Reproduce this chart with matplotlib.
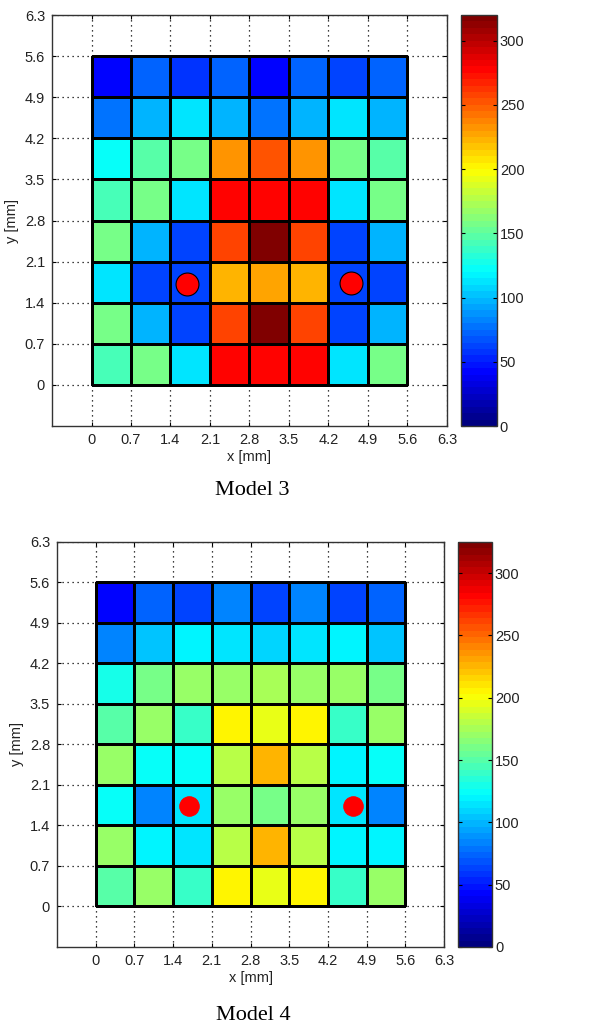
import numpy as np
import matplotlib
matplotlib.use("Agg")
import matplotlib.pyplot as plt
from matplotlib.colors import LinearSegmentedColormap

# Cell edges (mm) and tick labels
edges = [0, 0.7, 1.4, 2.1, 2.8, 3.5, 4.2, 4.9, 5.6]
ticks = [0, 0.7, 1.4, 2.1, 2.8, 3.5, 4.2, 4.9, 5.6, 6.3]
tick_labels = ["0", "0.7", "1.4", "2.1", "2.8", "3.5", "4.2", "4.9", "5.6", "6.3"]
cbar_ticks = [0, 50, 100, 150, 200, 250, 300]

# Model 3 values, rows listed from y = 0 upward
model3 = [
    [140, 155, 112, 276, 276, 276, 112, 155],
    [155,  97,  62, 256, 320, 256,  62,  97],
    [112,  63,  62, 224, 228, 224,  62,  63],
    [155,  97,  62, 256, 320, 256,  62,  97],
    [140, 155, 112, 276, 276, 276, 112, 155],
    [124, 148, 155, 234, 252, 234, 155, 147],
    [ 78,  97, 112,  97,  78,  97, 112,  97],
    [ 40,  71,  59,  71,  40,  73,  62,  71],
]
model3_vmax = 320
model3_dots_x = [1.69, 4.60]
model3_dots_y = [1.72, 1.74]

# Model 4 values, rows listed from y = 0 upward
model4 = [
    [148, 168, 140, 205, 198, 205, 140, 168],
    [169, 118, 114, 179, 224, 179, 118, 119],
    [124,  85, 114, 169, 160, 169, 114,  85],
    [169, 122, 122, 179, 224, 179, 121, 122],
    [150, 169, 140, 205, 198, 205, 140, 169],
    [127, 158, 169, 169, 174, 168, 168, 158],
    [ 85, 104, 117, 113, 110, 113, 117, 106],
    [ 44,  75,  65,  85,  65,  85,  65,  75],
]
model4_vmax = 325
model4_dots_x = [1.69, 4.65]
model4_dots_y = [1.745, 1.745]

FONT = "Liberation Sans"
TXT = "#222222"

# MATLAB-style jet with 64 levels
mjet = LinearSegmentedColormap("mjet", {
    "red":   [(0, 0, 0), (3/8, 0, 0), (5/8, 1, 1), (7/8, 1, 1), (1, 0.5, 0.5)],
    "green": [(0, 0, 0), (1/8, 0, 0), (3/8, 1, 1), (5/8, 1, 1), (7/8, 0, 0), (1, 0, 0)],
    "blue":  [(0, 0.5, 0.5), (1/8, 1, 1), (3/8, 1, 1), (5/8, 0, 0), (1, 0, 0)],
}, N=64)

fig = plt.figure(figsize=(6.02, 10.28), dpi=100)


def panel(ax_rect, cb_rect, data, vmax, dx, dy, dot_size, dot_edge, title, title_y):
    ax = fig.add_axes(ax_rect)
    cax = fig.add_axes(cb_rect)
    ax.set_axisbelow(True)
    mesh = ax.pcolormesh(edges, edges, np.array(data), cmap=mjet, vmin=0, vmax=vmax,
                         edgecolors="k", linewidth=0.8, zorder=2)
    ax.plot(dx, dy, "o", ms=dot_size, mfc="red",
            mec=dot_edge, mew=0.8, zorder=3)
    ax.set_xlim(-0.7, 6.3)
    ax.set_ylim(-0.7, 6.3)
    ax.set_xticks(ticks)
    ax.set_yticks(ticks)
    ax.set_xticklabels(tick_labels, fontfamily=FONT, fontsize=10.5, color=TXT)
    ax.set_yticklabels(tick_labels, fontfamily=FONT, fontsize=10.5, color=TXT)
    ax.grid(True, linestyle=(0, (1, 3)), color="k", linewidth=0.9)
    ax.tick_params(direction="in", length=3, width=0.8, top=True, right=True,
                   pad=5, colors="k", labelcolor=TXT)
    for s in ax.spines.values():
        s.set_linewidth(1.0)
        s.set_color("#333333")
    ax.set_xlabel("x [mm]", fontfamily=FONT, fontsize=10.5, color=TXT, labelpad=2)
    ax.set_ylabel("y [mm]", fontfamily=FONT, fontsize=10.5, color=TXT, labelpad=4)

    cb = fig.colorbar(mesh, cax=cax, ticks=cbar_ticks)
    cb.outline.set_linewidth(1.0)
    cb.outline.set_edgecolor("#333333")
    cax.tick_params(direction="in", length=3, width=0.8, left=True, right=True,
                    pad=2, labelsize=10.5, labelcolor=TXT)
    for t in cax.get_yticklabels():
        t.set_fontfamily(FONT)

    fig.text(ax_rect[0] + ax_rect[2] / 2 + 0.005, title_y, title,
             ha="center", va="center", fontfamily="Liberation Serif",
             fontsize=16, color="k")
    return ax


panel([0.0864, 0.5856, 0.656, 0.3998], [0.7658, 0.5856, 0.0598, 0.3998],
      model3, model3_vmax, model3_dots_x, model3_dots_y, 16.5, "k", "Model 3",
      1 - 490 / 1028)
panel([0.0947, 0.0788, 0.643, 0.394], [0.7610, 0.0788, 0.0565, 0.394],
      model4, model4_vmax, model4_dots_x, model4_dots_y, 14, "red", "Model 4",
      1 - 1016 / 1028)

fig.savefig("out.png", dpi=100)
